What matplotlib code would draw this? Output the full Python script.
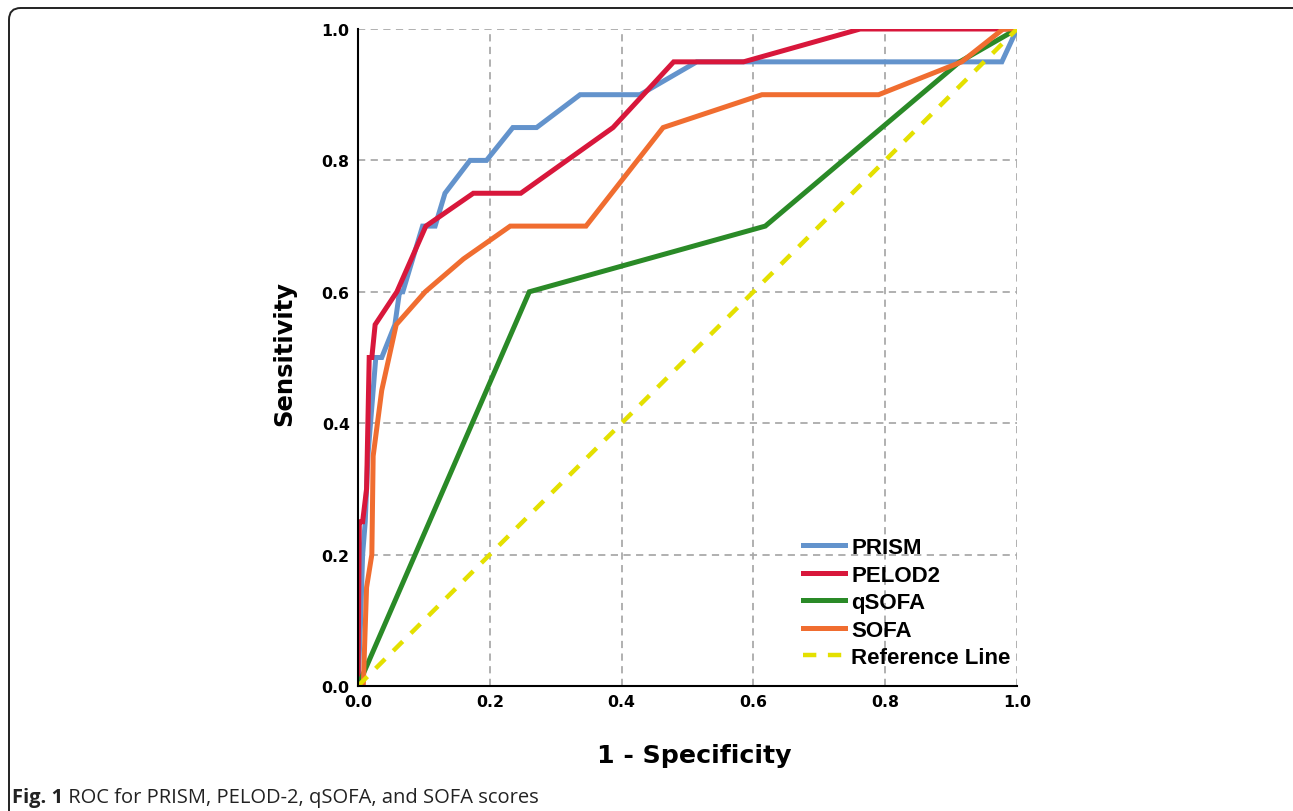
import matplotlib
matplotlib.use("Agg")
import matplotlib.pyplot as plt
from matplotlib.patches import FancyBboxPatch

# ---- data ----
prism_fpr = [0, 0.004, 0.007, 0.011, 0.015, 0.027, 0.036, 0.056, 0.063, 0.068, 0.098, 0.117,
             0.132, 0.170, 0.195, 0.235, 0.271, 0.337, 0.428, 0.514, 0.977, 1.0]
prism_tpr = [0, 0.10, 0.20, 0.25, 0.35, 0.50, 0.50, 0.55, 0.60, 0.60, 0.70, 0.70,
             0.75, 0.80, 0.80, 0.85, 0.85, 0.90, 0.90, 0.95, 0.95, 1.0]

pelod_fpr = [0, 0.002, 0.007, 0.013, 0.017, 0.021, 0.026, 0.059, 0.103, 0.175, 0.247,
             0.387, 0.479, 0.585, 0.762, 1.0]
pelod_tpr = [0, 0.25, 0.25, 0.30, 0.50, 0.50, 0.55, 0.60, 0.70, 0.75, 0.75,
             0.85, 0.95, 0.95, 1.0, 1.0]

qsofa_fpr = [0, 0.26, 0.618, 0.913, 1.0]
qsofa_tpr = [0, 0.60, 0.70, 0.95, 1.0]

sofa_fpr = [0, 0.008, 0.013, 0.021, 0.023, 0.036, 0.058, 0.102, 0.160, 0.231, 0.346,
            0.463, 0.613, 0.790, 0.916, 0.979, 1.0]
sofa_tpr = [0, 0.0, 0.15, 0.20, 0.35, 0.45, 0.55, 0.60, 0.65, 0.70, 0.70,
            0.85, 0.90, 0.90, 0.95, 1.0, 1.0]

ref_x = [0, 1]
ref_y = [0, 1]

series_names = ["PRISM", "PELOD2", "qSOFA", "SOFA", "Reference Line"]
ticks = [0.0, 0.2, 0.4, 0.6, 0.8, 1.0]
tick_labels = ["0.0", "0.2", "0.4", "0.6", "0.8", "1.0"]
caption_bold = "Fig. 1"
caption_rest = " ROC for PRISM, PELOD-2, qSOFA, and SOFA scores"

# ---- figure ----
W, H = 1293, 812
fig = plt.figure(figsize=(W / 100, H / 100), dpi=100)
ax = fig.add_axes([358 / W, (H - 687) / H, (1017 - 358) / W, (687 - 30) / H])

lw = 3.6
ax.plot(prism_fpr, prism_tpr, color="#6393cc", lw=lw, label=series_names[0], solid_joinstyle="miter")
ax.plot(pelod_fpr, pelod_tpr, color="#d8173b", lw=lw, label=series_names[1], solid_joinstyle="miter")
ax.plot(qsofa_fpr, qsofa_tpr, color="#2a8a27", lw=lw, label=series_names[2], solid_joinstyle="miter")
ax.plot(sofa_fpr, sofa_tpr, color="#f06d30", lw=lw, label=series_names[3], solid_joinstyle="miter")
ax.plot(ref_x, ref_y, color="#e4e000", lw=3.2, ls=(0, (3, 2.6)), label=series_names[4])

ax.set_xlim(0, 1)
ax.set_ylim(0, 1)
ax.set_xticks(ticks)
ax.set_yticks(ticks)
ax.set_xticklabels(tick_labels)
ax.set_yticklabels(tick_labels)
ax.tick_params(length=0, pad=6)
for lab in ax.get_xticklabels() + ax.get_yticklabels():
    lab.set_fontfamily("DejaVu Sans")
    lab.set_fontweight("bold")
    lab.set_fontsize(11.3)

for v in ticks[1:]:
    ax.axhline(v, color="#aaaaaa", lw=1.3, ls=(0, (4, 3)), zorder=0.5)
    ax.axvline(v, color="#aaaaaa", lw=1.3, ls=(0, (4, 3)), zorder=0.5)

for s in ["top", "right"]:
    ax.spines[s].set_visible(False)
for s in ["left", "bottom"]:
    ax.spines[s].set_linewidth(1.5)
    ax.spines[s].set_color("black")
    ax.spines[s].set_zorder(6)

ax.set_xlabel("1 - Specificity", fontfamily="DejaVu Sans", fontweight="bold", fontsize=18.2)
ax.set_ylabel("Sensitivity", fontfamily="DejaVu Sans", fontweight="bold", fontsize=17.5)
ax.xaxis.set_label_coords(0.511, -0.087)
ax.yaxis.set_label_coords(-0.094, 0.508)

leg = ax.legend(loc="upper left", bbox_to_anchor=(0.662, 0.240), frameon=False,
                prop={"family": "Liberation Sans", "weight": "bold", "size": 16},
                handlelength=1.9, handletextpad=0.27, labelspacing=0.29, borderaxespad=0)

# frame
frame = FancyBboxPatch((9 / W, -0.1), 1.2, 1.1 - 9 / H, boxstyle="round,pad=0,rounding_size=0.009",
                       transform=fig.transFigure, fill=False, edgecolor="#222222", lw=1.4,
                       mutation_aspect=W / H)
fig.patches.append(frame)

t1 = fig.text(12 / W, (H - 803) / H, caption_bold, fontfamily="Open Sans", fontweight="bold",
              fontsize=14.5, color="#222222", va="baseline")
fig.canvas.draw()
bb = t1.get_window_extent()
fig.text(bb.x1 / W, (H - 803) / H, caption_rest, fontfamily="Open Sans",
         fontsize=14.5, color="#222222", va="baseline")

fig.savefig("out.png", dpi=100)
